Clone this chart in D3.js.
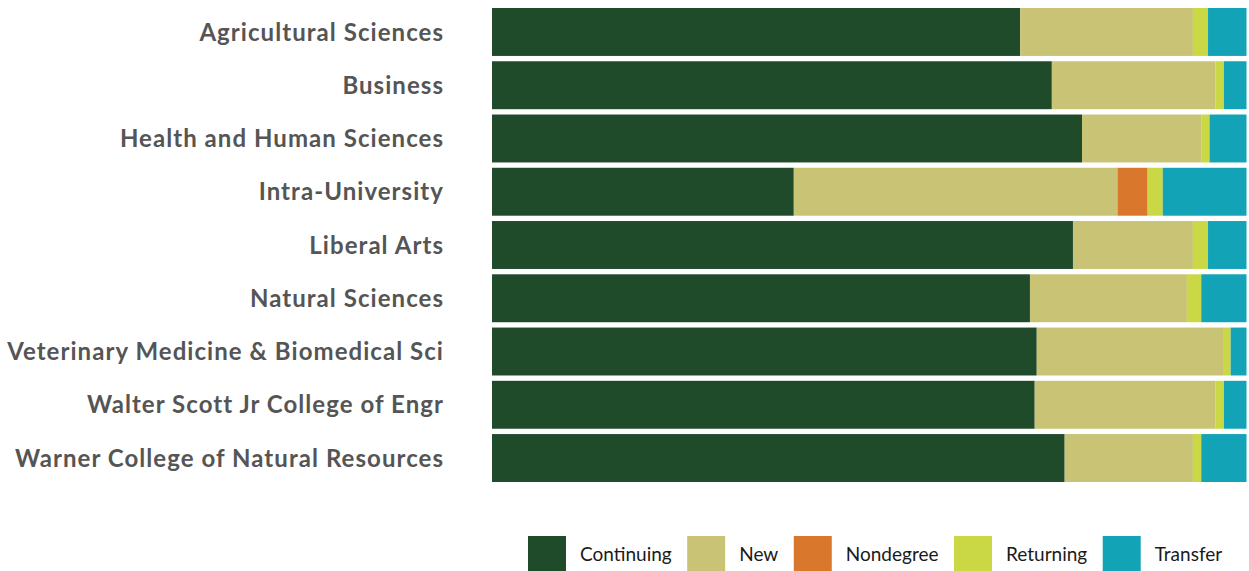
<!DOCTYPE html>
<html>
<head>
<meta charset="utf-8">
<script src="https://cdn.jsdelivr.net/npm/d3@7"></script>
<style>
  html, body { margin: 0; padding: 0; background: #ffffff; }
  svg { display: block; }
</style>
</head>
<body>
<svg id="chart" width="1249" height="571"></svg>
<script>
const colleges = [
  "Agricultural Sciences",
  "Business",
  "Health and Human Sciences",
  "Intra-University",
  "Liberal Arts",
  "Natural Sciences",
  "Veterinary Medicine & Biomedical Sci",
  "Walter Scott Jr College of Engr",
  "Warner College of Natural Resources"
];
const seriesNames = ["Continuing", "New", "Nondegree", "Returning", "Transfer"];
// percent of students per college
const continuing = [70.0, 74.2, 78.2, 40.0, 77.0, 71.3, 72.2, 72.0, 75.9];
const newStudents = [22.9, 21.7, 15.8, 42.9, 15.9, 20.8, 24.8, 24.0, 17.0];
const nondegree  = [0.0, 0.0, 0.0, 4.0, 0.0, 0.0, 0.0, 0.0, 0.0];
const returning  = [2.0, 1.1, 1.1, 2.0, 2.0, 1.9, 0.9, 1.1, 1.1];
const transfer   = [5.1, 3.0, 4.9, 11.1, 5.1, 6.0, 2.1, 3.0, 6.0];
const colors = ["#1f4b2b", "#c8c375", "#d9782d", "#cad845", "#13a3b6"];

const rows = colleges.map((c, i) => ({
  college: c,
  Continuing: continuing[i],
  New: newStudents[i],
  Nondegree: nondegree[i],
  Returning: returning[i],
  Transfer: transfer[i]
}));

const svg = d3.select("#chart");
const x0 = 492, x1 = 1246.5, yTop = 8, yBot = 482;

const stack = d3.stack().keys(seriesNames).offset(d3.stackOffsetExpand);
const stacked = stack(rows);

const x = d3.scaleLinear().domain([0, 1]).range([x0, x1]);
const y = d3.scaleBand().domain(colleges).range([yTop, yBot]).paddingInner(0.1).paddingOuter(0);
const color = d3.scaleOrdinal().domain(seriesNames).range(colors);

svg.append("g").selectAll("g")
  .data(stacked)
  .join("g")
  .attr("fill", d => color(d.key))
  .selectAll("rect")
  .data(d => d)
  .join("rect")
  .attr("x", d => x(d[0]))
  .attr("width", d => Math.max(0, x(d[1]) - x(d[0])))
  .attr("y", d => y(d.data.college))
  .attr("height", y.bandwidth());

const yAxis = svg.append("g")
  .attr("transform", `translate(${x0 - 48},1)`)
  .call(d3.axisLeft(y).tickSize(0).tickPadding(0));
yAxis.select(".domain").remove();
yAxis.selectAll("text")
  .attr("fill", "#555555")
  .style("font-family", "Lato, 'Open Sans', sans-serif")
  .style("font-weight", "700")
  .style("font-size", "24px")
  .style("letter-spacing", "1.05px");

// legend
const legend = svg.append("g").attr("class", "legend");
let lx = 528;
seriesNames.forEach((name, i) => {
  const g = legend.append("g").attr("transform", `translate(${lx},536)`);
  g.append("rect").attr("width", 38).attr("height", 35).attr("fill", color(name));
  const t = g.append("text")
    .attr("x", 52)
    .attr("y", 18)
    .attr("dy", "0.35em")
    .attr("fill", "#1a1a1a")
    .style("font-family", "Lato, 'Open Sans', sans-serif")
    .style("font-size", "19px")
    .text(name);
  const w = t.node().getComputedTextLength();
  lx += 52 + w + 15.5;
});
</script>
</body>
</html>
